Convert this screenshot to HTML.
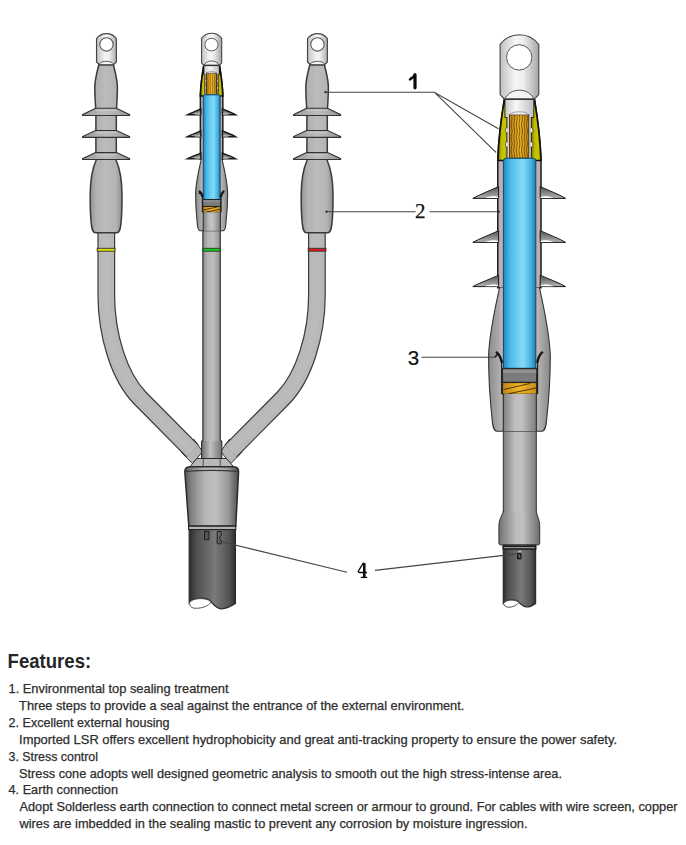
<!DOCTYPE html>
<html><head><meta charset="utf-8">
<style>
html,body{margin:0;padding:0;background:#fff;width:686px;height:845px;overflow:hidden}
svg{position:absolute;left:0;top:0;display:block}
.t{font-family:"Liberation Sans",sans-serif;font-size:12.4px;fill:#2e2e2e;stroke:#2e2e2e;stroke-width:0.25px}
.h{font-family:"Liberation Sans",sans-serif;font-size:19.3px;font-weight:bold;fill:#262626}
.l1{font-family:"Liberation Sans",sans-serif;font-size:18px;font-weight:bold;fill:#111}
.lbl{font-family:"Liberation Serif",serif;font-size:19px;fill:#111}
</style></head>
<body>
<svg width="686" height="845" viewBox="0 0 686 845">
<defs>
<linearGradient id="gBodyS" gradientUnits="userSpaceOnUse" x1="-16" x2="16" y1="0" y2="0">
  <stop offset="0" stop-color="#939393"/><stop offset="0.2" stop-color="#b2b2b2"/>
  <stop offset="0.5" stop-color="#bbbbbb"/><stop offset="0.8" stop-color="#b4b4b4"/>
  <stop offset="1" stop-color="#8e8e8e"/></linearGradient>
<linearGradient id="gShedS" gradientUnits="userSpaceOnUse" x1="-23" x2="23" y1="0" y2="0">
  <stop offset="0" stop-color="#9a9a9a"/><stop offset="0.3" stop-color="#b0b0b0"/>
  <stop offset="0.5" stop-color="#bcbcbc"/><stop offset="0.7" stop-color="#b0b0b0"/>
  <stop offset="1" stop-color="#969696"/></linearGradient>
<linearGradient id="gCableS" gradientUnits="userSpaceOnUse" x1="-9" x2="9" y1="0" y2="0">
  <stop offset="0" stop-color="#8e8e8e"/><stop offset="0.3" stop-color="#b6b6b6"/>
  <stop offset="0.6" stop-color="#bdbdbd"/><stop offset="1" stop-color="#8e8e8e"/></linearGradient>
<linearGradient id="gLugS" gradientUnits="userSpaceOnUse" x1="-10" x2="10" y1="0" y2="0">
  <stop offset="0" stop-color="#c4c4c4"/><stop offset="0.45" stop-color="#f4f4f4"/>
  <stop offset="0.6" stop-color="#f0f0f0"/><stop offset="1" stop-color="#b0b0b0"/></linearGradient>
<linearGradient id="gBlueS" gradientUnits="userSpaceOnUse" x1="-8.5" x2="8.5" y1="0" y2="0">
  <stop offset="0" stop-color="#1f8ec6"/><stop offset="0.25" stop-color="#50bde8"/>
  <stop offset="0.6" stop-color="#82d8fa"/><stop offset="0.85" stop-color="#4ab6e4"/>
  <stop offset="1" stop-color="#1a80b8"/></linearGradient>
<linearGradient id="gLugB" gradientUnits="userSpaceOnUse" x1="500" x2="539" y1="0" y2="0">
  <stop offset="0" stop-color="#c0c0c0"/><stop offset="0.4" stop-color="#f6f6f6"/>
  <stop offset="0.6" stop-color="#eeeeee"/><stop offset="1" stop-color="#a4a4a4"/></linearGradient>
<linearGradient id="gBlueB" gradientUnits="userSpaceOnUse" x1="503.4" x2="535.8" y1="0" y2="0">
  <stop offset="0" stop-color="#1c86bc"/><stop offset="0.2" stop-color="#4cb8e6"/>
  <stop offset="0.6" stop-color="#84daf9"/><stop offset="0.85" stop-color="#48b2e0"/>
  <stop offset="1" stop-color="#1a7cb0"/></linearGradient>
<linearGradient id="gConeB" gradientUnits="userSpaceOnUse" x1="488" x2="551" y1="0" y2="0">
  <stop offset="0" stop-color="#8a8a8a"/><stop offset="0.2" stop-color="#b0b0b0"/>
  <stop offset="0.5" stop-color="#bdbdbd"/><stop offset="0.8" stop-color="#b2b2b2"/>
  <stop offset="1" stop-color="#858585"/></linearGradient>
<linearGradient id="gCableB" gradientUnits="userSpaceOnUse" x1="503" x2="537" y1="0" y2="0">
  <stop offset="0" stop-color="#7e7e7e"/><stop offset="0.35" stop-color="#bdbdbd"/>
  <stop offset="0.55" stop-color="#c2c2c2"/><stop offset="1" stop-color="#7a7a7a"/></linearGradient>
<linearGradient id="gFlareB" gradientUnits="userSpaceOnUse" x1="499" x2="540" y1="0" y2="0">
  <stop offset="0" stop-color="#707070"/><stop offset="0.12" stop-color="#8a8a8a"/><stop offset="0.42" stop-color="#bdbdbd"/>
  <stop offset="0.58" stop-color="#c0c0c0"/><stop offset="0.88" stop-color="#848484"/><stop offset="1" stop-color="#6c6c6c"/></linearGradient>
<linearGradient id="gDarkB" gradientUnits="userSpaceOnUse" x1="503" x2="536" y1="0" y2="0">
  <stop offset="0" stop-color="#2a2a2a"/><stop offset="0.15" stop-color="#4e4e4e"/><stop offset="0.55" stop-color="#7a7a7a"/>
  <stop offset="0.85" stop-color="#545454"/><stop offset="1" stop-color="#2c2c2c"/></linearGradient>
<linearGradient id="gShedB" x1="0" x2="0" y1="0" y2="1">
  <stop offset="0" stop-color="#555"/><stop offset="0.6" stop-color="#8c8c8c"/><stop offset="1" stop-color="#b8b8b8"/></linearGradient>
<linearGradient id="gYel" x1="0" x2="1" y1="0" y2="0">
  <stop offset="0" stop-color="#6a6600"/><stop offset="0.35" stop-color="#bcb800"/><stop offset="0.7" stop-color="#cac600"/><stop offset="1" stop-color="#a4a000"/></linearGradient>
<linearGradient id="gCu" x1="0" x2="1" y1="0" y2="0">
  <stop offset="0" stop-color="#c08418"/><stop offset="0.5" stop-color="#f2b828"/><stop offset="1" stop-color="#c88c18"/></linearGradient>
<linearGradient id="gBarB" gradientUnits="userSpaceOnUse" x1="505" x2="533" y1="0" y2="0">
  <stop offset="0" stop-color="#c8c8c8"/><stop offset="0.4" stop-color="#f8f8f8"/><stop offset="1" stop-color="#c0c0c0"/></linearGradient>
<linearGradient id="gCollar" gradientUnits="userSpaceOnUse" x1="201" x2="222" y1="0" y2="0">
  <stop offset="0" stop-color="#6a6a6a"/><stop offset="0.45" stop-color="#c0c0c0"/><stop offset="1" stop-color="#707070"/></linearGradient>
<linearGradient id="gBreak" gradientUnits="userSpaceOnUse" x1="184" x2="239" y1="0" y2="0">
  <stop offset="0" stop-color="#4e4e4e"/><stop offset="0.12" stop-color="#7e7e7e"/><stop offset="0.38" stop-color="#b6b6b6"/>
  <stop offset="0.58" stop-color="#bebebe"/><stop offset="0.8" stop-color="#9a9a9a"/><stop offset="1" stop-color="#4a4a4a"/></linearGradient>
<linearGradient id="gDarkM" gradientUnits="userSpaceOnUse" x1="189" x2="236" y1="0" y2="0">
  <stop offset="0" stop-color="#2a2a2a"/><stop offset="0.15" stop-color="#4e4e4e"/><stop offset="0.55" stop-color="#7a7a7a"/>
  <stop offset="0.85" stop-color="#545454"/><stop offset="1" stop-color="#2c2c2c"/></linearGradient>
</defs>
<g>
<path d="M181,452 L192.4,463.6 L202.6,451.6 L193.6,439 Z" fill="#b6b6b6" stroke="#333" stroke-width="1"/>
<path d="M106.3,228 L106.3,295 C106.3,335 119.1,376.5 140,398 L192.5,451" fill="none" stroke="#3a3a3a" stroke-width="17.8" stroke-linecap="butt"/>
<path d="M106.3,228 L106.3,295 C106.3,335 119.1,376.5 140,398 L192.5,451" fill="none" stroke="#b8b8b8" stroke-width="15.4" stroke-linecap="butt"/>
<path d="M106.3,228 L106.3,295 C106.3,335 119.1,376.5 140,398 L192.5,451" fill="none" stroke="#bbbbbb" stroke-width="7"/>
</g>
<g transform="translate(423.2,0) scale(-1,1)">
<path d="M181,452 L192.4,463.6 L202.6,451.6 L193.6,439 Z" fill="#b6b6b6" stroke="#333" stroke-width="1"/>
<path d="M106.3,228 L106.3,295 C106.3,335 119.1,376.5 140,398 L192.5,451" fill="none" stroke="#3a3a3a" stroke-width="17.8" stroke-linecap="butt"/>
<path d="M106.3,228 L106.3,295 C106.3,335 119.1,376.5 140,398 L192.5,451" fill="none" stroke="#b8b8b8" stroke-width="15.4" stroke-linecap="butt"/>
<path d="M106.3,228 L106.3,295 C106.3,335 119.1,376.5 140,398 L192.5,451" fill="none" stroke="#bbbbbb" stroke-width="7"/>
</g>
<path d="M190,466.5 L197,458.5 L226.4,458.5 L233.4,466.5 Z" fill="#b8b8b8" stroke="#333" stroke-width="1"/>
<line x1="203.2" y1="458.5" x2="203.2" y2="466" stroke="#333" stroke-width="0.8"/>
<line x1="220.2" y1="458.5" x2="220.2" y2="466" stroke="#333" stroke-width="0.8"/>
<rect x="201.6" y="440.4" width="20.2" height="18.1" fill="url(#gCollar)" stroke="none"/>
<path d="M202.9,440.4 L201.6,441.6 L201.6,458.5 L221.8,458.5 L221.8,441.6 L220.5,440.4" fill="none" stroke="#2a2a2a" stroke-width="1.1"/>
<path d="M184.8,471.5 Q185,467 189.5,466.8 L233.9,466.8 Q238.6,467 238.6,471.5 L235.8,526 L188.8,526 Z" fill="url(#gBreak)" stroke="#2a2a2a" stroke-width="1.5"/>
<path d="M185.4,471.4 Q211.7,469.4 238,471.4" fill="none" stroke="#3a3a3a" stroke-width="1.2"/>
<path d="M189.2,529.5 L235.4,529.5 L235.4,603.6 C231,606.5 226,609 221,608.8 C216.5,608.4 213.5,605 210.6,601.2 C206,596.8 194,596.8 189.2,603 Z" fill="url(#gDarkM)" stroke="#2a2a2a" stroke-width="1.2"/>
<path d="M189.4,603 C191,598 206,597 210.8,601.6 C209.5,606.5 200,608.8 194,608.2 C191,607.6 189.5,605.5 189.4,603 Z" fill="#fff" stroke="#555" stroke-width="1"/>
<rect x="188.6" y="526.2" width="47.2" height="3.4" fill="#b4b4b4" stroke="#222" stroke-width="1.1"/>
<rect x="204.6" y="531.5" width="4.4" height="8.2" fill="#555" stroke="#111" stroke-width="0.8"/>
<path d="M217.2,531.5 L221.2,531.5 L221.2,536 L219,538 L221.2,540 L221.2,543.8 L217.2,543.8 Z" fill="#666" stroke="#111" stroke-width="0.8"/>
<g transform="translate(106.1,0)">
<path d="M-7.3,64.8 C-8.8,71 -11.2,79 -11.3,87 C-11.3,96 -10.6,104 -10.4,109 L-10.2,116.4 L-10.2,131.5 L-10.2,138.2 L-10.2,153.5 L-10,160.2 C-13.5,168 -15.8,180 -15.9,194 C-16,205 -15.8,215 -14.8,224 C-14.2,229 -13.6,232.6 -10.5,232.8 L10.5,232.8 C13.6,232.6 14.2,229 14.8,224 C15.8,215 16,205 15.9,194 C15.8,180 13.5,168 10,160.2 L10.2,153.5 L10.2,138.2 L10.2,131.5 L10.2,116.4 L10.4,109 C10.6,104 11.3,96 11.3,87 C11.2,79 8.8,71 7.3,64.8 Z" fill="url(#gBodyS)" stroke="#3a3a3a" stroke-width="1.5"/>
<path d="M-10.5,108.3 L-23.5,114.7 L-23.5,115.5 L23.5,115.5 L23.5,114.7 L10.5,108.3 Z" fill="url(#gShedS)" stroke="#333" stroke-width="1.1"/>
<line x1="-10" y1="110.5" x2="10" y2="110.5" stroke="#d0d0d0" stroke-width="0.8"/>
<path d="M-10.5,130.5 L-23.5,136.6 L-23.5,137.4 L23.5,137.4 L23.5,136.6 L10.5,130.5 Z" fill="url(#gShedS)" stroke="#333" stroke-width="1.1"/>
<line x1="-10" y1="132.7" x2="10" y2="132.7" stroke="#d0d0d0" stroke-width="0.8"/>
<path d="M-10.5,152.6 L-23.5,158.7 L-23.5,159.5 L23.5,159.5 L23.5,158.7 L10.5,152.6 Z" fill="url(#gShedS)" stroke="#333" stroke-width="1.1"/>
<line x1="-10" y1="154.8" x2="10" y2="154.8" stroke="#d0d0d0" stroke-width="0.8"/>
<g transform="translate(0.35,0)">
<path d="M-9.9,38.5 A12.4,12.4 0 0 1 9.9,38.5 L9.9,62 L7,64.8 L-7,64.8 L-9.9,62 Z" fill="url(#gLugS)" stroke="#444" stroke-width="1.2"/>
<circle cx="0" cy="44.4" r="6.7" fill="#fff" stroke="#555" stroke-width="1.1"/>
<path d="M-7.1,64 C-5,60.4 5,60.4 7.1,64" fill="#f4f4f4" stroke="#555" stroke-width="1"/>
</g>
<rect x="-8.9" y="248.3" width="17.8" height="2.9" fill="#e6e000" stroke="#333" stroke-width="0.9"/>
</g>
<g transform="translate(317.1,0)">
<path d="M-7.3,64.8 C-8.8,71 -11.2,79 -11.3,87 C-11.3,96 -10.6,104 -10.4,109 L-10.2,116.4 L-10.2,131.5 L-10.2,138.2 L-10.2,153.5 L-10,160.2 C-13.5,168 -15.8,180 -15.9,194 C-16,205 -15.8,215 -14.8,224 C-14.2,229 -13.6,232.6 -10.5,232.8 L10.5,232.8 C13.6,232.6 14.2,229 14.8,224 C15.8,215 16,205 15.9,194 C15.8,180 13.5,168 10,160.2 L10.2,153.5 L10.2,138.2 L10.2,131.5 L10.2,116.4 L10.4,109 C10.6,104 11.3,96 11.3,87 C11.2,79 8.8,71 7.3,64.8 Z" fill="url(#gBodyS)" stroke="#3a3a3a" stroke-width="1.5"/>
<path d="M-10.5,108.3 L-23.5,114.7 L-23.5,115.5 L23.5,115.5 L23.5,114.7 L10.5,108.3 Z" fill="url(#gShedS)" stroke="#333" stroke-width="1.1"/>
<line x1="-10" y1="110.5" x2="10" y2="110.5" stroke="#d0d0d0" stroke-width="0.8"/>
<path d="M-10.5,130.5 L-23.5,136.6 L-23.5,137.4 L23.5,137.4 L23.5,136.6 L10.5,130.5 Z" fill="url(#gShedS)" stroke="#333" stroke-width="1.1"/>
<line x1="-10" y1="132.7" x2="10" y2="132.7" stroke="#d0d0d0" stroke-width="0.8"/>
<path d="M-10.5,152.6 L-23.5,158.7 L-23.5,159.5 L23.5,159.5 L23.5,158.7 L10.5,152.6 Z" fill="url(#gShedS)" stroke="#333" stroke-width="1.1"/>
<line x1="-10" y1="154.8" x2="10" y2="154.8" stroke="#d0d0d0" stroke-width="0.8"/>
<g transform="translate(0.35,0)">
<path d="M-9.9,38.5 A12.4,12.4 0 0 1 9.9,38.5 L9.9,62 L7,64.8 L-7,64.8 L-9.9,62 Z" fill="url(#gLugS)" stroke="#444" stroke-width="1.2"/>
<circle cx="0" cy="44.4" r="6.7" fill="#fff" stroke="#555" stroke-width="1.1"/>
<path d="M-7.1,64 C-5,60.4 5,60.4 7.1,64" fill="#f4f4f4" stroke="#555" stroke-width="1"/>
</g>
<rect x="-8.9" y="248.3" width="17.8" height="2.9" fill="#e01818" stroke="#333" stroke-width="0.9"/>
</g>
<g transform="translate(211.6,0)">
<path d="M-8.6,226 L-8.6,441 M8.6,441 L8.6,226" fill="none" stroke="#333" stroke-width="1"/><rect x="-8.6" y="226" width="17.2" height="215" fill="url(#gCableS)" stroke="none"/><path d="M-8.6,226 L-8.6,441 M8.6,441 L8.6,226" fill="none" stroke="#333" stroke-width="1"/>
<rect x="-8.6" y="248.3" width="17.2" height="2.9" fill="#10d010" stroke="#333" stroke-width="0.9"/>
</g>
<g transform="translate(211.6,33.2) scale(0.52,0.498) translate(-519.4,-34.5)">
<path d="M504.4,99.2 C501.6,116 498.6,138 497.8,160 L497.8,287.8 L541,287.8 L541,160 C540.2,138 537.2,116 534.4,99.2 Z" fill="#bdb0ae" stroke="#1a1a1a" stroke-width="2.85"/>
<path d="M499.6,287.5 C495,308 489.2,334 488.6,356 C488.6,385 490.6,405 492,418 C492.6,426 493.5,431 497,431.2 L541.8,431.2 C545.3,431 546.2,426 546.8,418 C548.2,405 550.3,385 550.3,356 C549.7,334 544,308 539.4,287.5 Z" fill="url(#gConeB)" stroke="none"/>
<path d="M499.6,287.5 C495,308 489.2,334 488.6,356 C488.6,385 490.6,405 492,418 C492.6,426 493.5,431 497,431.2 L541.8,431.2 C545.3,431 546.2,426 546.8,418 C548.2,405 550.3,385 550.3,356 C549.7,334 544,308 539.4,287.5" fill="none" stroke="#333" stroke-width="2.09"/>
<rect x="500.2" y="288" width="3.4" height="74" fill="#bfb2af"/>
<rect x="535.6" y="288" width="3.4" height="74" fill="#bfb2af"/>
<path d="M504.4,99.2 C501.6,116 498.6,138 497.8,160.5 L507.4,160.5 L507.4,117 L505.4,117 L505.4,99.2 Z" fill="url(#gYel)" stroke="#111" stroke-width="3.23"/>
<path d="M534.4,99.2 C537.2,116 540.2,138 541,160.5 L530.8,160.5 L530.8,117 L533.4,117 L533.4,99.2 Z" fill="url(#gYel)" stroke="#111" stroke-width="3.23"/>
<rect x="505.4" y="99" width="28" height="18" fill="url(#gBarB)" stroke="none"/>
<rect x="507.4" y="116" width="23.4" height="43" fill="#d8d8d8" stroke="none"/>
<path d="M507.6,127.6 L505.6,128.4 L505.6,132.2 L507.6,133" fill="#fff" stroke="#333" stroke-width="1.33"/>
<path d="M530.6,127.6 L532.8,128.4 L532.8,132.2 L530.6,133" fill="#fff" stroke="#333" stroke-width="1.33"/>
<path d="M507.6,141.8 L505.6,142.6 L505.6,146.4 L507.6,147.2" fill="#fff" stroke="#333" stroke-width="1.33"/>
<path d="M530.6,141.8 L532.8,142.6 L532.8,146.4 L530.6,147.2" fill="#fff" stroke="#333" stroke-width="1.33"/>
<rect x="509.4" y="114.6" width="19.4" height="43.6" fill="url(#gCu)" stroke="#3a2800" stroke-width="1.71"/>
<path d="M509.6,114.8 C511.5,112.6 515,111.8 519.1,111.8 C523.2,111.8 527,112.6 528.6,114.8 Z" fill="#f4f4f4" stroke="#777" stroke-width="1.33"/>
<path d="M512.4,115 Q513.5,118.2 512.4,121.4 Q511.3,124.6 512.4,127.8 Q513.5,131 512.4,134.2 Q511.3,137.4 512.4,140.6 Q513.5,143.8 512.4,147 Q511.3,150.2 512.4,153.4 Q513.5,156.6 512.4,159.8 " fill="none" stroke="#5a3a00" stroke-width="1"/>
<path d="M516.8,115 Q517.9,118.2 516.8,121.4 Q515.7,124.6 516.8,127.8 Q517.9,131 516.8,134.2 Q515.7,137.4 516.8,140.6 Q517.9,143.8 516.8,147 Q515.7,150.2 516.8,153.4 Q517.9,156.6 516.8,159.8 " fill="none" stroke="#5a3a00" stroke-width="1"/>
<path d="M521.2,115 Q522.3,118.2 521.2,121.4 Q520.1,124.6 521.2,127.8 Q522.3,131 521.2,134.2 Q520.1,137.4 521.2,140.6 Q522.3,143.8 521.2,147 Q520.1,150.2 521.2,153.4 Q522.3,156.6 521.2,159.8 " fill="none" stroke="#5a3a00" stroke-width="1"/>
<path d="M525.6,115 Q526.7,118.2 525.6,121.4 Q524.5,124.6 525.6,127.8 Q526.7,131 525.6,134.2 Q524.5,137.4 525.6,140.6 Q526.7,143.8 525.6,147 Q524.5,150.2 525.6,153.4 Q526.7,156.6 525.6,159.8 " fill="none" stroke="#5a3a00" stroke-width="1"/>
<path d="M500.1,44.6 A23.9,23.9 0 0 1 538.8,44.6 L538.8,94.6 L534.3,99.1 L504.6,99.1 L500.1,94.6 Z" fill="url(#gLugB)" stroke="#444" stroke-width="2.09"/>
<circle cx="519.2" cy="57.4" r="12.7" fill="#fff" stroke="#555" stroke-width="1.9"/>
<path d="M504.6,99.1 C508,93 513,90.2 519.4,90.2 C526,90.2 530.5,93 534.3,99.1 Z" fill="#f2f2f2" stroke="#555" stroke-width="1.9"/>
<line x1="504.6" y1="99.2" x2="534.3" y2="99.2" stroke="#333" stroke-width="2.85"/>
<path d="M503.4,161 Q503.4,158.3 506,158.3 L533.2,158.3 Q535.8,158.3 535.8,161 L535.8,368.4 L503.4,368.4 Z" fill="url(#gBlueB)" stroke="#0c4a70" stroke-width="1.9"/>
<path d="M498.6,186.6 C490,190.6 480,194.4 472.8,198.4 L498.6,198.4 Z" fill="url(#gShedB)" stroke="#1a1a1a" stroke-width="2.85"/>
<path d="M485,198 C490,195.8 496,195.8 498.2,197.2 L498.2,198 L485,198 Z" fill="#fff"/>
<path d="M540.2,186.6 C549,190.6 559,194.4 565.6,198.4 L540.2,198.4 Z" fill="url(#gShedB)" stroke="#1a1a1a" stroke-width="2.85"/>
<path d="M553.6,198 C549,195.8 543,195.8 540.6,197.2 L540.6,198 L553.6,198 Z" fill="#fff"/>
<path d="M498.6,230.7 C490,234.7 480,238.4 472.8,242.4 L498.6,242.4 Z" fill="url(#gShedB)" stroke="#1a1a1a" stroke-width="2.85"/>
<path d="M485,242 C490,239.8 496,239.8 498.2,241.2 L498.2,242 L485,242 Z" fill="#fff"/>
<path d="M540.2,230.7 C549,234.7 559,238.4 565.6,242.4 L540.2,242.4 Z" fill="url(#gShedB)" stroke="#1a1a1a" stroke-width="2.85"/>
<path d="M553.6,242 C549,239.8 543,239.8 540.6,241.2 L540.6,242 L553.6,242 Z" fill="#fff"/>
<path d="M498.6,275.2 C490,279.2 480,282.6 472.8,286.6 L498.6,286.6 Z" fill="url(#gShedB)" stroke="#1a1a1a" stroke-width="2.85"/>
<path d="M485,286.2 C490,284 496,284 498.2,285.4 L498.2,286.2 L485,286.2 Z" fill="#fff"/>
<path d="M540.2,275.2 C549,279.2 559,282.6 565.6,286.6 L540.2,286.6 Z" fill="url(#gShedB)" stroke="#1a1a1a" stroke-width="2.85"/>
<path d="M553.6,286.2 C549,284 543,284 540.6,285.4 L540.6,286.2 L553.6,286.2 Z" fill="#fff"/>
<rect x="502.6" y="368.4" width="34" height="13.8" fill="#7c7c7c" stroke="#222" stroke-width="1.9"/>
<rect x="503.2" y="370.5" width="33" height="2" fill="#999"/>
<rect x="502.6" y="382.6" width="34" height="11.6" fill="url(#gCu)" stroke="#222" stroke-width="1.9"/>
<path d="M503.5,389.5 L530,383.5 M509,393.6 L536,388" stroke="#2a1a00" stroke-width="1.52" fill="none"/>
<rect x="503.3" y="394" width="33" height="37.2" fill="url(#gCableB)"/>
<line x1="503.3" y1="394" x2="503.3" y2="431.2" stroke="#222" stroke-width="1.9"/>
<line x1="536.3" y1="394" x2="536.3" y2="431.2" stroke="#222" stroke-width="1.9"/>
<line x1="501.6" y1="360" x2="501.6" y2="394" stroke="#222" stroke-width="2.28"/>
<line x1="537.6" y1="360" x2="537.6" y2="394" stroke="#222" stroke-width="2.28"/>
<path d="M496.6,352.4 C498.6,354 500.6,357 501.8,362" fill="none" stroke="#151515" stroke-width="4.56" stroke-linecap="round"/>
<path d="M495,357 L497.6,354.2" fill="none" stroke="#151515" stroke-width="3.04"/>
<path d="M542.2,352.4 C540.2,354 538.4,357 537.4,362" fill="none" stroke="#151515" stroke-width="4.56" stroke-linecap="round"/>
</g>
<path d="M503.3,392 L503.3,512.5 L536.3,512.5 L536.3,392" fill="url(#gCableB)" stroke="#333" stroke-width="1"/>
<path d="M503.3,512 C501.5,516 499.2,520 498.9,524.5 L498.9,543 Q498.9,545 501,545 L537.6,545 Q539.7,545 539.7,543 L539.7,524.5 C539.4,520 537.2,516 536.3,512 Z" fill="url(#gFlareB)" stroke="none"/>
<path d="M503.3,511 L503.3,512 C501.5,516 499.2,520 498.9,524.5 L498.9,543 Q498.9,545 501,545 L537.6,545 Q539.7,545 539.7,543 L539.7,524.5 C539.4,520 537.2,516 536.3,512 L536.3,511" fill="none" stroke="#333" stroke-width="1"/>
<path d="M503.3,545 L535.6,545 L535.6,603.5 C533,605.5 530,607.2 526.5,607 C523,606.8 521,604.5 518.6,602 C515,599 507,599 503.3,603.6 Z" fill="url(#gDarkB)" stroke="#2a2a2a" stroke-width="1.2"/>
<path d="M503.6,603.5 C506,599.5 515,599 518.8,602.4 C517,605.5 512,607.6 508,607.2 C505.5,606.8 504,605.5 503.6,603.5 Z" fill="#fff" stroke="#555" stroke-width="1"/>
<rect x="503.3" y="546.4" width="32.3" height="2.6" fill="#b0b0b0" stroke="#1e1e1e" stroke-width="1.6"/>
<path d="M517.4,553.4 L521,553.4 L521.4,558.8 L517.6,559 Z" fill="#2a2a2a" stroke="#111" stroke-width="0.8"/><path d="M518.6,554.6 L520.2,557.8" stroke="#aaa" stroke-width="0.7"/><rect x="518.6" y="550.8" width="2.4" height="1.4" fill="#ccc"/>
<path d="M504.4,99.2 C501.6,116 498.6,138 497.8,160 L497.8,287.8 L541,287.8 L541,160 C540.2,138 537.2,116 534.4,99.2 Z" fill="#bdb0ae" stroke="#1a1a1a" stroke-width="1.5"/>
<path d="M499.6,287.5 C495,308 489.2,334 488.6,356 C488.6,385 490.6,405 492,418 C492.6,426 493.5,431 497,431.2 L541.8,431.2 C545.3,431 546.2,426 546.8,418 C548.2,405 550.3,385 550.3,356 C549.7,334 544,308 539.4,287.5 Z" fill="url(#gConeB)" stroke="none"/>
<path d="M499.6,287.5 C495,308 489.2,334 488.6,356 C488.6,385 490.6,405 492,418 C492.6,426 493.5,431 497,431.2 L541.8,431.2 C545.3,431 546.2,426 546.8,418 C548.2,405 550.3,385 550.3,356 C549.7,334 544,308 539.4,287.5" fill="none" stroke="#333" stroke-width="1.1"/>
<rect x="500.2" y="288" width="3.4" height="74" fill="#bfb2af"/>
<rect x="535.6" y="288" width="3.4" height="74" fill="#bfb2af"/>
<path d="M504.4,99.2 C501.6,116 498.6,138 497.8,160.5 L507.4,160.5 L507.4,117 L505.4,117 L505.4,99.2 Z" fill="url(#gYel)" stroke="#111" stroke-width="1.7"/>
<path d="M534.4,99.2 C537.2,116 540.2,138 541,160.5 L530.8,160.5 L530.8,117 L533.4,117 L533.4,99.2 Z" fill="url(#gYel)" stroke="#111" stroke-width="1.7"/>
<rect x="505.4" y="99" width="28" height="18" fill="url(#gBarB)" stroke="none"/>
<rect x="507.4" y="116" width="23.4" height="43" fill="#d8d8d8" stroke="none"/>
<path d="M507.6,127.6 L505.6,128.4 L505.6,132.2 L507.6,133" fill="#fff" stroke="#333" stroke-width="0.7"/>
<path d="M530.6,127.6 L532.8,128.4 L532.8,132.2 L530.6,133" fill="#fff" stroke="#333" stroke-width="0.7"/>
<path d="M507.6,141.8 L505.6,142.6 L505.6,146.4 L507.6,147.2" fill="#fff" stroke="#333" stroke-width="0.7"/>
<path d="M530.6,141.8 L532.8,142.6 L532.8,146.4 L530.6,147.2" fill="#fff" stroke="#333" stroke-width="0.7"/>
<rect x="509.4" y="114.6" width="19.4" height="43.6" fill="url(#gCu)" stroke="#3a2800" stroke-width="0.9"/>
<path d="M509.6,114.8 C511.5,112.6 515,111.8 519.1,111.8 C523.2,111.8 527,112.6 528.6,114.8 Z" fill="#f4f4f4" stroke="#777" stroke-width="0.7"/>
<path d="M511.6,115 Q512.7,118.2 511.6,121.4 Q510.5,124.6 511.6,127.8 Q512.7,131 511.6,134.2 Q510.5,137.4 511.6,140.6 Q512.7,143.8 511.6,147 Q510.5,150.2 511.6,153.4 Q512.7,156.6 511.6,159.8 " fill="none" stroke="#5a3a00" stroke-width="0.75"/>
<path d="M514.2,115 Q515.3,118.2 514.2,121.4 Q513.1,124.6 514.2,127.8 Q515.3,131 514.2,134.2 Q513.1,137.4 514.2,140.6 Q515.3,143.8 514.2,147 Q513.1,150.2 514.2,153.4 Q515.3,156.6 514.2,159.8 " fill="none" stroke="#5a3a00" stroke-width="0.75"/>
<path d="M516.8,115 Q517.9,118.2 516.8,121.4 Q515.7,124.6 516.8,127.8 Q517.9,131 516.8,134.2 Q515.7,137.4 516.8,140.6 Q517.9,143.8 516.8,147 Q515.7,150.2 516.8,153.4 Q517.9,156.6 516.8,159.8 " fill="none" stroke="#5a3a00" stroke-width="0.75"/>
<path d="M519.4,115 Q520.5,118.2 519.4,121.4 Q518.3,124.6 519.4,127.8 Q520.5,131 519.4,134.2 Q518.3,137.4 519.4,140.6 Q520.5,143.8 519.4,147 Q518.3,150.2 519.4,153.4 Q520.5,156.6 519.4,159.8 " fill="none" stroke="#5a3a00" stroke-width="0.75"/>
<path d="M522,115 Q523.1,118.2 522,121.4 Q520.9,124.6 522,127.8 Q523.1,131 522,134.2 Q520.9,137.4 522,140.6 Q523.1,143.8 522,147 Q520.9,150.2 522,153.4 Q523.1,156.6 522,159.8 " fill="none" stroke="#5a3a00" stroke-width="0.75"/>
<path d="M524.6,115 Q525.7,118.2 524.6,121.4 Q523.5,124.6 524.6,127.8 Q525.7,131 524.6,134.2 Q523.5,137.4 524.6,140.6 Q525.7,143.8 524.6,147 Q523.5,150.2 524.6,153.4 Q525.7,156.6 524.6,159.8 " fill="none" stroke="#5a3a00" stroke-width="0.75"/>
<path d="M527,115 Q528.1,118.2 527,121.4 Q525.9,124.6 527,127.8 Q528.1,131 527,134.2 Q525.9,137.4 527,140.6 Q528.1,143.8 527,147 Q525.9,150.2 527,153.4 Q528.1,156.6 527,159.8 " fill="none" stroke="#5a3a00" stroke-width="0.75"/>
<path d="M500.1,44.6 A23.9,23.9 0 0 1 538.8,44.6 L538.8,94.6 L534.3,99.1 L504.6,99.1 L500.1,94.6 Z" fill="url(#gLugB)" stroke="#444" stroke-width="1.1"/>
<circle cx="519.2" cy="57.4" r="12.7" fill="#fff" stroke="#555" stroke-width="1"/>
<path d="M504.6,99.1 C508,93 513,90.2 519.4,90.2 C526,90.2 530.5,93 534.3,99.1 Z" fill="#f2f2f2" stroke="#555" stroke-width="1"/>
<line x1="504.6" y1="99.2" x2="534.3" y2="99.2" stroke="#333" stroke-width="1.5"/>
<path d="M503.4,161 Q503.4,158.3 506,158.3 L533.2,158.3 Q535.8,158.3 535.8,161 L535.8,368.4 L503.4,368.4 Z" fill="url(#gBlueB)" stroke="#0c4a70" stroke-width="1"/>
<path d="M498.6,186.6 C490,190.6 480,194.4 472.8,198.4 L498.6,198.4 Z" fill="url(#gShedB)" stroke="#1a1a1a" stroke-width="1"/>
<path d="M485,198 C490,195.8 496,195.8 498.2,197.2 L498.2,198 L485,198 Z" fill="#fff"/>
<path d="M540.2,186.6 C549,190.6 559,194.4 565.6,198.4 L540.2,198.4 Z" fill="url(#gShedB)" stroke="#1a1a1a" stroke-width="1"/>
<path d="M553.6,198 C549,195.8 543,195.8 540.6,197.2 L540.6,198 L553.6,198 Z" fill="#fff"/>
<path d="M498.6,230.7 C490,234.7 480,238.4 472.8,242.4 L498.6,242.4 Z" fill="url(#gShedB)" stroke="#1a1a1a" stroke-width="1"/>
<path d="M485,242 C490,239.8 496,239.8 498.2,241.2 L498.2,242 L485,242 Z" fill="#fff"/>
<path d="M540.2,230.7 C549,234.7 559,238.4 565.6,242.4 L540.2,242.4 Z" fill="url(#gShedB)" stroke="#1a1a1a" stroke-width="1"/>
<path d="M553.6,242 C549,239.8 543,239.8 540.6,241.2 L540.6,242 L553.6,242 Z" fill="#fff"/>
<path d="M498.6,275.2 C490,279.2 480,282.6 472.8,286.6 L498.6,286.6 Z" fill="url(#gShedB)" stroke="#1a1a1a" stroke-width="1"/>
<path d="M485,286.2 C490,284 496,284 498.2,285.4 L498.2,286.2 L485,286.2 Z" fill="#fff"/>
<path d="M540.2,275.2 C549,279.2 559,282.6 565.6,286.6 L540.2,286.6 Z" fill="url(#gShedB)" stroke="#1a1a1a" stroke-width="1"/>
<path d="M553.6,286.2 C549,284 543,284 540.6,285.4 L540.6,286.2 L553.6,286.2 Z" fill="#fff"/>
<rect x="502.6" y="368.4" width="34" height="13.8" fill="#7c7c7c" stroke="#222" stroke-width="1"/>
<rect x="503.2" y="370.5" width="33" height="2" fill="#999"/>
<rect x="502.6" y="382.6" width="34" height="11.6" fill="url(#gCu)" stroke="#222" stroke-width="1"/>
<path d="M503.5,389.5 L530,383.5 M509,393.6 L536,388" stroke="#2a1a00" stroke-width="0.8" fill="none"/>
<rect x="503.3" y="394" width="33" height="37.2" fill="url(#gCableB)"/>
<line x1="503.3" y1="394" x2="503.3" y2="431.2" stroke="#222" stroke-width="1"/>
<line x1="536.3" y1="394" x2="536.3" y2="431.2" stroke="#222" stroke-width="1"/>
<line x1="501.6" y1="360" x2="501.6" y2="394" stroke="#222" stroke-width="1.2"/>
<line x1="537.6" y1="360" x2="537.6" y2="394" stroke="#222" stroke-width="1.2"/>
<path d="M496.6,352.4 C498.6,354 500.6,357 501.8,362" fill="none" stroke="#151515" stroke-width="2.4" stroke-linecap="round"/>
<path d="M495,357 L497.6,354.2" fill="none" stroke="#151515" stroke-width="1.6"/>
<path d="M542.2,352.4 C540.2,354 538.4,357 537.4,362" fill="none" stroke="#151515" stroke-width="2.4" stroke-linecap="round"/>
<path d="M325,92.2 L434.3,92.2 L498.4,128.8 M434.3,92.2 L496,152.4" stroke="#444" stroke-width="1.1" fill="none"/>
<circle cx="325.5" cy="92.2" r="1.1" fill="#222"/>
<path d="M326,211.7 L415.6,211.7 M429.6,211.7 L499,211.7" stroke="#444" stroke-width="1.1" fill="none"/>
<circle cx="326.5" cy="211.7" r="1.1" fill="#222"/>
<circle cx="498.8" cy="211.7" r="1.1" fill="#222"/>
<path d="M421.5,357.2 L496,357.2" stroke="#444" stroke-width="1.1" fill="none"/>
<path d="M218.7,541 L347,572.2 M375,570.4 L517,553.8" stroke="#444" stroke-width="1.1" fill="none"/>
<path d="M415,74.8 L415,87.8" fill="none" stroke="#0a0a0a" stroke-width="3.2" stroke-linecap="round"/><path d="M410,79.4 C412,78.4 414,76.6 415,74.6" fill="none" stroke="#0a0a0a" stroke-width="2.4" stroke-linecap="round"/>
<text x="415" y="217.8" font-family="Liberation Serif" font-size="21" fill="#111" stroke="#111" stroke-width="0.25">2</text>
<text x="407.7" y="364.8" font-family="Liberation Sans" font-size="20.5" fill="#111" stroke="#111" stroke-width="0.2">3</text>
<g fill="none" stroke="#0e0e0e"><path d="M364.3,563 L364.3,577" stroke-width="2.6"/><path d="M363.6,562.6 C361.5,566 359.6,569 358.2,571.6 C358.6,572.4 359.2,572.5 360,572.5 L367,572.5" stroke-width="1.3"/><path d="M360.8,577.4 L367.2,577.4" stroke-width="1.3"/></g>
<text class="h" x="7.6" y="668" textLength="83.6" lengthAdjust="spacingAndGlyphs">Features:</text>
<text class="t" x="8.5" y="693" textLength="220" lengthAdjust="spacingAndGlyphs">1. Environmental top sealing treatment</text>
<text class="t" x="19.1" y="710" textLength="445.2" lengthAdjust="spacingAndGlyphs">Three steps to provide a seal against the entrance of the external environment.</text>
<text class="t" x="8.5" y="727" textLength="161" lengthAdjust="spacingAndGlyphs">2. Excellent external housing</text>
<text class="t" x="19.1" y="744" textLength="597.9" lengthAdjust="spacingAndGlyphs">Imported LSR offers excellent hydrophobicity and great anti-tracking property to ensure the power safety.</text>
<text class="t" x="8.5" y="761" textLength="89.5" lengthAdjust="spacingAndGlyphs">3. Stress control</text>
<text class="t" x="19.1" y="778" textLength="542.9" lengthAdjust="spacingAndGlyphs">Stress cone adopts well designed geometric analysis to smooth out the high stress-intense area.</text>
<text class="t" x="8.5" y="794" textLength="109.5" lengthAdjust="spacingAndGlyphs">4. Earth connection</text>
<text class="t" x="19.5" y="811" textLength="658" lengthAdjust="spacingAndGlyphs">Adopt Solderless earth connection to connect metal screen or armour to ground. For cables with wire screen, copper</text>
<text class="t" x="19.5" y="828" textLength="508" lengthAdjust="spacingAndGlyphs">wires are imbedded in the sealing mastic to prevent any corrosion by moisture ingression.</text>
</svg>
</body></html>
